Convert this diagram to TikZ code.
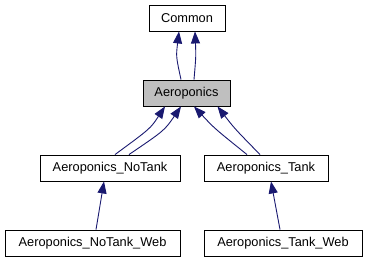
\documentclass[tikz,border=0pt]{standalone}
\usepackage{fontspec}
\setmainfont{Liberation Sans}
\usetikzlibrary{arrows.meta,calc}
\begin{document}
\begin{tikzpicture}[x=1pt,y=-1pt,
  cls/.style={draw=black,line width=0.9pt,fill=white,inner sep=0pt,
    minimum height=26pt,font=\fontsize{12.8}{15}\selectfont},
  inh/.style={draw={rgb,255:red,25;green,25;blue,112},line width=0.9pt,
    {Triangle[length=12pt,width=9pt,fill={rgb,255:red,25;green,25;blue,112}]}-}]
\useasboundingbox (0,0) rectangle (367,261);
% class boxes
\node[cls,minimum width=76pt] (common) at (187,18) {Common};
\node[cls,minimum width=87pt,fill={rgb,255:red,191;green,191;blue,191}] (aero) at (186.5,93) {Aeroponics};
\node[cls,minimum width=140pt] (notank) at (110,168) {Aeroponics\_NoTank};
\node[cls,minimum width=124pt] (tank) at (266,168) {Aeroponics\_Tank};
\node[cls,minimum width=175pt] (notankweb) at (92.5,243) {Aeroponics\_NoTank\_Web};
\node[cls,minimum width=158pt] (tankweb) at (283,243) {Aeroponics\_Tank\_Web};
% inheritance edges
\draw[inh] ($(common.south)+(-8,0)$) .. controls ($(common.south)+(-11,25)$) .. ($(aero.north)+(-5.5,0)$);
\draw[inh] ($(common.south)+(8,0)$) .. controls ($(common.south)+(9,25)$) .. ($(aero.north)+(7.5,0)$);
\draw[inh] ($(aero.south)+(-21.5,0)$) .. controls ($(aero.south)+(-36,22)$) .. ($(notank.north)+(5,0)$);
\draw[inh] ($(aero.south)+(-5.5,0)$) .. controls ($(aero.south)+(-22,24)$) .. ($(notank.north)+(19,0)$);
\draw[inh] ($(aero.south)+(7.5,0)$) .. controls ($(aero.south)+(28,22)$) .. ($(tank.north)+(-19,0)$);
\draw[inh] ($(aero.south)+(31,0)$) .. controls ($(aero.south)+(48,22)$) .. ($(tank.north)+(-6,0)$);
\draw[inh] ($(notank.south)+(-6,0)$) -- ($(notankweb.north)+(3.5,0)$);
\draw[inh] ($(tank.south)+(5,0)$) -- ($(tankweb.north)+(-3,0)$);
\end{tikzpicture}
\end{document}
